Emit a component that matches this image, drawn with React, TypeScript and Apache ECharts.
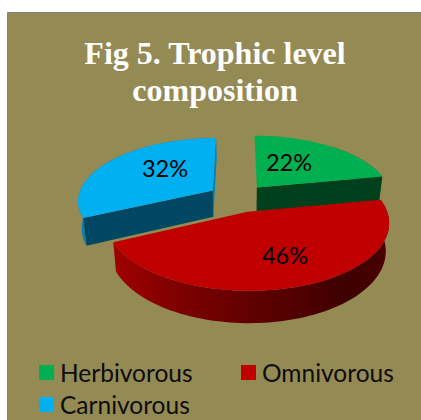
import React, { useEffect, useRef } from "react";
import * as echarts from "echarts";

const titleLines = ["Fig 5. Trophic level", "composition"];
const categories = ["Herbivorous", "Omnivorous", "Carnivorous"];
const shares = [22, 46, 32];

const topColors = ["#00b050", "#c00000", "#00b0f0"];
const rimColors = ["#00602c", "#8a0000", "#0a7fae"];
const cutColors = ["#00401c", "#5a0000", "#004763"];
const labelAt = [[289, 162], [285, 255], [165, 168]];
const legendAt = [[39, 360], [241, 360], [39, 392]];

// projection of the exploded disk onto the page
const CX = 238, CY = 198, A = 135, B = 62.5, K = 0.15, EXPLODE = 0.225, DEPTH = 26.5, TAPER = 0.978;

const project = (u: number, v: number, dropped: boolean) => {
  const w = 1 - K * v;
  let x = (A * u) / w;
  let y = CY + (B * v) / w;
  if (dropped) {
    x *= TAPER;
    y += DEPTH / w;
  }
  return [CX + x, y];
};

const total = shares.reduce((a, b) => a + b, 0);

const sliceGeometry = (index: number) => {
  const before = shares.slice(0, index).reduce((a, b) => a + b, 0);
  const t0 = (before / total) * Math.PI * 2;
  const t1 = ((before + shares[index]) / total) * Math.PI * 2;
  const mid = (t0 + t1) / 2;
  const ou = EXPLODE * Math.sin(mid);
  const ov = -EXPLODE * Math.cos(mid);
  const n = Math.max(8, Math.ceil((t1 - t0) / 0.03));
  const arc: number[][] = [];
  for (let i = 0; i <= n; i++) {
    const t = t0 + ((t1 - t0) * i) / n;
    arc.push([ou + Math.sin(t), ov - Math.cos(t)]);
  }
  return { arc, apex: [ou, ov] };
};

const wall = (a: number[], b: number[]) => [
  project(a[0], a[1], false),
  project(b[0], b[1], false),
  project(b[0], b[1], true),
  project(a[0], a[1], true),
];

const renderSlice = (index: number) => (_params: any, api: any) => {
  const { arc, apex } = sliceGeometry(index);
  // the back half of the green slice's outer wall is hidden behind its own top face
  const rimArc = index === 0 ? arc.slice(Math.floor(arc.length / 2)) : arc;
  const rimPoints = [
    ...rimArc.map((p) => project(p[0], p[1], false)),
    ...rimArc.slice().reverse().map((p) => project(p[0], p[1], true)),
  ];
  const first = arc[0];
  const last = arc[arc.length - 1];
  const rimFill =
    index === 1
      ? new echarts.graphic.LinearGradient(0, 0, 1, 0, [
          { offset: 0, color: "#a00000" },
          { offset: 0.25, color: "#7c0000" },
          { offset: 0.55, color: "#5c0000" },
          { offset: 0.85, color: "#3e0000" },
          { offset: 1, color: "#4a0000" },
        ])
      : rimColors[index];
  const cuts: any[] = [];
  if (index === 0) {
    cuts.push({ type: "polygon", shape: { points: wall(apex, last) }, style: { fill: cutColors[0] } });
  }
  if (index === 2) {
    cuts.push({ type: "polygon", shape: { points: wall(apex, last) }, style: { fill: rimColors[2] } });
    cuts.push({ type: "polygon", shape: { points: wall(apex, first) }, style: { fill: cutColors[2] } });
  }
  const top = [project(apex[0], apex[1], false), ...arc.map((p) => project(p[0], p[1], false))];
  const value = api.value(0);
  return {
    type: "group",
    children: [
      { type: "polygon", shape: { points: rimPoints }, style: { fill: rimFill } },
      ...cuts,
      { type: "polygon", shape: { points: top }, style: { fill: topColors[index] } },
      {
        type: "text",
        style: {
          text: `${value}%`,
          x: labelAt[index][0],
          y: labelAt[index][1],
          align: "center",
          verticalAlign: "middle",
          fill: "#000000",
          font: "23.5px Lato",
        },
      },
    ],
  };
};

export default function App() {
  const ref = useRef<HTMLDivElement>(null);
  useEffect(() => {
    const chart = echarts.init(ref.current!, undefined, { renderer: "svg" });
    chart.setOption({
      animation: false,
      backgroundColor: "#ffffff",
      graphic: [
        {
          type: "rect",
          z: -10,
          silent: true,
          shape: { x: 7.5, y: 12.5, width: 420, height: 414 },
          style: { fill: "#948a54", stroke: "#808080", lineWidth: 1 },
        },
      ],
      title: {
        text: titleLines.join("\n"),
        left: 210,
        top: 29,
        textAlign: "center",
        textStyle: {
          fontFamily: "Liberation Serif",
          fontWeight: "bold",
          fontSize: 32,
          lineHeight: 37,
          color: "#ffffff",
        },
      },
      legend: categories.map((name, i) => ({
        data: [name],
        left: legendAt[i][0],
        top: legendAt[i][1],
        padding: 0,
        itemWidth: 15,
        itemHeight: 15,
        itemGap: 0,
        icon: "rect",
        selectedMode: false,
        textStyle: { fontFamily: "Lato", fontSize: 24.5, color: "#0d0d0d", padding: [0, 0, 0, 1] },
      })),
      series: categories.map((name, i) => ({
        type: "custom",
        name,
        coordinateSystem: "none",
        silent: true,
        z: i === 1 ? 3 : 2,
        itemStyle: { color: topColors[i] },
        data: [[shares[i]]],
        renderItem: renderSlice(i),
      })),
    });
    return () => chart.dispose();
  }, []);
  return <div ref={ref} style={{ position: "fixed", left: 0, top: 0, width: 421, height: 420 }} />;
}
